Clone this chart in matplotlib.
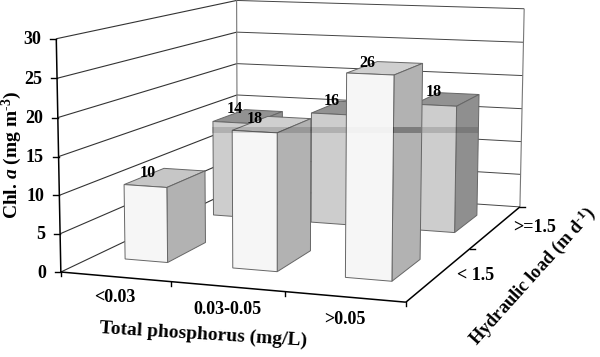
import numpy as np
import matplotlib
matplotlib.use("Agg")
import matplotlib.pyplot as plt
from matplotlib.patches import Polygon, Rectangle

plt.rcParams.update({"font.family": "Liberation Serif", "font.weight": "bold",
                     "font.size": 13, "mathtext.fontset": "custom",
                     "mathtext.rm": "Liberation Serif:bold",
                     "mathtext.it": "Liberation Serif:italic:bold",
                     "mathtext.bf": "Liberation Serif:bold"})

# data
phosphorus = ["<0.03", "0.03-0.05", ">0.05"]
hydraulic = ["< 1.5", ">=1.5"]
chl_low = [10, 18, 26]
chl_high = [14, 16, 18]
z_ticks = [0, 5, 10, 15, 20, 25, 30]

# camera: fit a projective matrix to the corners of the Excel box (pixels)
world = [(0, 0, 0), (3, 0, 0), (3, 2, 0), (0, 2, 0), (0, 0, 30), (3, 2, 30), (0, 2, 30)]
pix = [(61, 271), (406, 303), (520, 206), (237, 189), (56, 39), (524, 9), (237, 0)]
rows = []
rhs = []
for (x, y, z), (u, v) in zip(world, pix):
    rows.append([x, y, z, 1, 0, 0, 0, 0, -u * x, -u * y, -u * z])
    rows.append([0, 0, 0, 0, x, y, z, 1, -v * x, -v * y, -v * z])
    rhs += [u, v]
sol = np.linalg.lstsq(np.array(rows, float), np.array(rhs, float), rcond=None)[0]
P = np.append(sol, 1).reshape(3, 4)


def proj(x, y, z):
    p = P @ np.array([x, y, z, 1.0])
    return p[0] / p[2], p[1] / p[2]


fig = plt.figure(figsize=(6, 3.57), dpi=100)
ax = fig.add_axes([0, 0, 1, 1])
ax.set_xlim(0, 600)
ax.set_ylim(357, 0)
ax.axis("off")


def line(a, b, color="#222222", lw=0.8, zorder=1):
    ax.plot(*zip(proj(*a), proj(*b)), color=color, lw=lw, zorder=zorder,
            solid_capstyle="butt")


# walls
for z in z_ticks:
    line((0, 0, z), (0, 2, z), "#333333", 0.8)
    line((0, 2, z), (3, 2, z), "#444444", 0.7)
    u, v = proj(0, 0, z)
    ax.plot([u - 6, u], [v, v], color="black", lw=1, zorder=1)
    ax.text(u - 15, v + 1, str(z), ha="right", va="center", fontsize=13)
line((0, 2, 0), (0, 2, 30), "#777777")
line((3, 2, 0), (3, 2, 30), "#777777")
line((0, 0, 0), (0, 0, 30), "black", 1.1, 2)
line((0, 0, 0), (3, 0, 0), "black", 1.1, 2)
line((3, 0, 0), (3, 2, 0), "black", 1.1, 2)
for x in [0, 1, 2, 3]:
    u, v = proj(x, 0, 0)
    ax.plot([u, u], [v, v + 4], color="black", lw=1, zorder=2)
for y in [1, 2]:
    u, v = proj(3, y, 0)
    ax.plot([u, u + 5], [v, v], color="black", lw=1, zorder=2)


def draw_bar(i, j, h, front, side, top, zorder, off):
    x0, x1 = i + 0.30, i + 0.70
    y0, y1 = j + 0.31, j + 0.73
    faces = [([(x0, y0, h), (x1, y0, h), (x1, y1, h), (x0, y1, h)], top),
             ([(x1, y0, 0), (x1, y1, 0), (x1, y1, h), (x1, y0, h)], side),
             ([(x0, y0, 0), (x1, y0, 0), (x1, y0, h), (x0, y0, h)], front)]
    for pts, col in faces:
        ax.add_patch(Polygon([proj(*p) for p in pts], closed=True, facecolor=col,
                             edgecolor="#666666", lw=0.7, zorder=zorder))
    u, v = proj(i + 0.5, j + 0.52, h)
    ax.text(u + off[0], v + off[1], str(h), ha="center", va="center", fontsize=11.5,
            zorder=20)


# back row, then the scan band, then front row
for i, h in enumerate(chl_high):
    draw_bar(i, 1, h, "#cdcdcd", "#8f8f8f", "#929292", 4 + i, (-14, -7))
for i, h in enumerate(chl_low):
    top = "#c6c6c6" if i == 0 else "#cfcfcf"
    draw_bar(i, 0, h, "#f6f6f6", "#b2b2b2", top, 10 + i, (-18, -5))
ax.add_patch(Rectangle((212, 127), 266, 6, facecolor="black", alpha=0.14, lw=0, zorder=11.5))
ax.add_patch(Rectangle((393, 127), 28, 6, facecolor="black", alpha=0.30, lw=0, zorder=13))
ax.add_patch(Rectangle((346, 127), 47, 6, facecolor="black", alpha=0.02, lw=0, zorder=13))

# category labels
for name, (u, v) in zip(phosphorus, [(115, 298), (227, 310), (345, 319)]):
    ax.text(u, v, name, ha="center", va="center", fontsize=13)
for name, (u, v) in zip(hydraulic, [(476, 275), (535, 227)]):
    ax.text(u, v, name, ha="center", va="center", fontsize=13)

# axis titles
ax.text(12, 155, r"Chl. $\mathit{a}$ (mg m$^{\text{-3}}$)", rotation=90,
        ha="center", va="center", fontsize=14)
ax.text(203, 335, "Total phosphorus (mg/L)", rotation=-3.5, rotation_mode="anchor",
        ha="center", va="center", fontsize=14)
ax.text(532, 276, r"Hydraulic load (m d$^{\text{-1}}$)", rotation=48,
        rotation_mode="anchor", ha="center", va="center", fontsize=13.3)

fig.savefig("out.png", dpi=100)
